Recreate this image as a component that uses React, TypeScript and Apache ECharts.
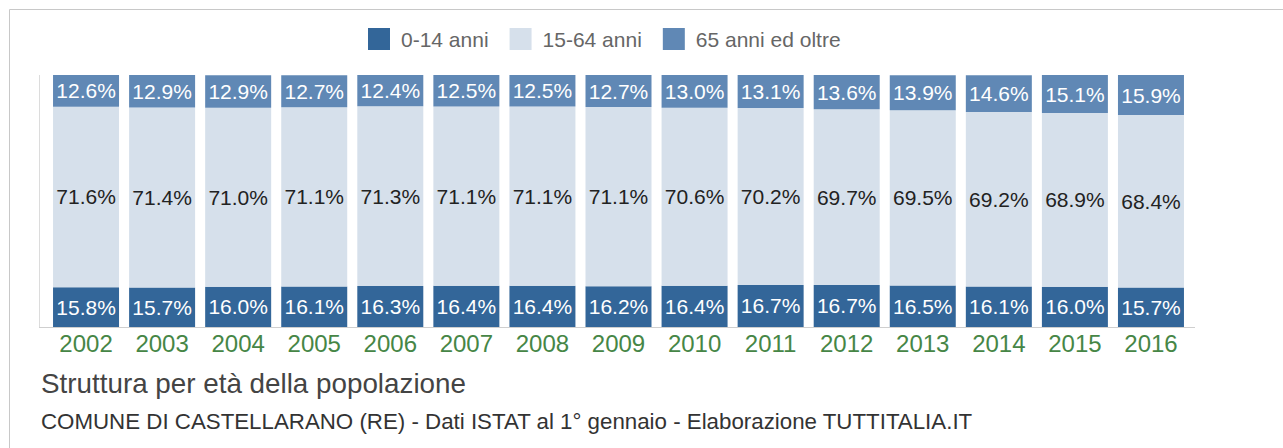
import React, { useEffect, useRef } from "react";
import * as echarts from "echarts";

const years = ["2002", "2003", "2004", "2005", "2006", "2007", "2008", "2009", "2010", "2011", "2012", "2013", "2014", "2015", "2016"];
const age0to14 = [15.8, 15.7, 16.0, 16.1, 16.3, 16.4, 16.4, 16.2, 16.4, 16.7, 16.7, 16.5, 16.1, 16.0, 15.7];
const age15to64 = [71.6, 71.4, 71.0, 71.1, 71.3, 71.1, 71.1, 71.1, 70.6, 70.2, 69.7, 69.5, 69.2, 68.9, 68.4];
const age65plus = [12.6, 12.9, 12.9, 12.7, 12.4, 12.5, 12.5, 12.7, 13.0, 13.1, 13.6, 13.9, 14.6, 15.1, 15.9];
const seriesNames = ["0-14 anni", "15-64 anni", "65 anni ed oltre"];
const titleText = "Struttura per età della popolazione";
const subtitleText = "COMUNE DI CASTELLARANO (RE) - Dati ISTAT al 1° gennaio - Elaborazione TUTTITALIA.IT";

const FONT = "'Liberation Sans', Arial, Helvetica, sans-serif";

export default function App() {
  const ref = useRef<HTMLDivElement>(null);
  useEffect(() => {
    if (!ref.current) return;
    const chart = echarts.init(ref.current, null, { renderer: "svg" });
    const fmt = (p: any) => Number(p.value).toFixed(1) + "%";
    const mk = (name: string, data: number[], color: string, labelColor: string) => ({
      name,
      type: "bar",
      stack: "total",
      data,
      barWidth: 66,
      itemStyle: { color },
      label: {
        show: true,
        position: "inside",
        formatter: fmt,
        color: labelColor,
        fontSize: 21,
        fontFamily: FONT,
      },
      emphasis: { disabled: true },
    });
    chart.setOption({
      animation: false,
      textStyle: { fontFamily: FONT },
      title: [
        {
          text: titleText,
          left: 41,
          top: 369,
          padding: 0,
          textStyle: { fontSize: 27.8, fontWeight: "normal", color: "#444", fontFamily: FONT },
        },
        {
          text: subtitleText,
          left: 41,
          top: 410,
          padding: 0,
          textStyle: { fontSize: 22.3, fontWeight: "normal", color: "#333", fontFamily: FONT },
        },
      ],
      legend: {
        left: 363,
        top: 23,
        itemWidth: 22,
        itemHeight: 22,
        itemGap: 21,
        icon: "rect",
        selectedMode: false,
        textStyle: { fontSize: 21, color: "#666", fontFamily: FONT, padding: [0, 0, 0, 6] },
        data: seriesNames,
      },
      grid: { left: 48, width: 1141, top: 75, height: 252 },
      xAxis: {
        type: "category",
        data: years,
        axisLine: { show: false },
        axisTick: { show: false },
        axisLabel: { color: "#468646", fontSize: 24, margin: 4, fontFamily: FONT },
      },
      yAxis: {
        type: "value",
        min: 0,
        max: 100,
        show: false,
        splitLine: { show: false },
      },
      graphic: [
        {
          type: "rect",
          shape: { x: 9.5, y: 9.5, width: 1300, height: 500 },
          style: { fill: "none", stroke: "#c8c8c8", lineWidth: 1 },
          silent: true,
        },
        {
          type: "line",
          shape: { x1: 39.5, y1: 75, x2: 39.5, y2: 327.5 },
          style: { stroke: "#dcdcdc", lineWidth: 1 },
          silent: true,
        },
        {
          type: "line",
          shape: { x1: 39, y1: 327.5, x2: 1195, y2: 327.5 },
          style: { stroke: "#cfcfcf", lineWidth: 1 },
          silent: true,
        },
      ],
      series: [
        mk(seriesNames[0], age0to14, "#336699", "#ffffff"),
        mk(seriesNames[1], age15to64, "#d6e0eb", "#222222"),
        mk(seriesNames[2], age65plus, "#6088b5", "#ffffff"),
      ],
    });
    return () => chart.dispose();
  }, []);
  return (
    <div
      ref={ref}
      style={{ position: "absolute", left: 0, top: 0, width: 1283, height: 448, background: "#fff" }}
    />
  );
}
